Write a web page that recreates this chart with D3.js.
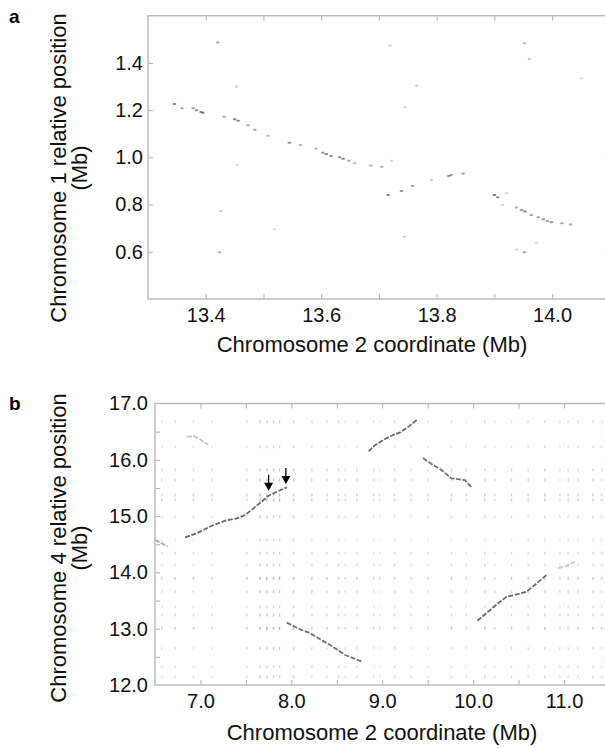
<!DOCTYPE html>
<html>
<head>
<meta charset="utf-8">
<script src="https://cdn.jsdelivr.net/npm/d3@7"></script>
<style>
  body { margin: 0; background: #fff; }
  svg { display: block; font-family: "Liberation Sans", Arial, Helvetica, sans-serif; }
  .frame { fill: none; stroke: #bcbcbc; stroke-width: 1.5; }
  .ticks line { stroke: #b0b0b0; stroke-width: 1; }
  .ticks path, .labels path { display: none; }
  .labels text { font-size: 20px; fill: #111; }
  .title { font-size: 22px; fill: #111; }
  .tag { font-size: 19px; font-weight: bold; fill: #000; }
</style>
</head>
<body>
<svg id="fig" width="605" height="748"></svg>
<script>
// ---------- panel a: chromosome 2 coordinate (x) vs chromosome 1 position (y), Mb ----------
// each match is [x, y, strength]
var aXLabels = [13.4, 13.6, 13.8, 14.0];
var aXTicks = [13.4, 13.5, 13.6, 13.7, 13.8, 13.9, 14.0];
var aYLabels = [0.6, 0.8, 1.0, 1.2, 1.4];
var aBlock1 = [
  [13.346, 1.226, .9], [13.359, 1.208, .6], [13.378, 1.208, .7], [13.384, 1.200, .8],
  [13.392, 1.192, .9], [13.395, 1.189, .9], [13.432, 1.172, .6], [13.450, 1.161, .9],
  [13.456, 1.155, .9], [13.473, 1.136, .6], [13.485, 1.117, .7], [13.508, 1.092, .5],
  [13.545, 1.062, .8], [13.564, 1.052, .6], [13.591, 1.038, .5], [13.603, 1.020, .8],
  [13.609, 1.014, .9], [13.617, 1.006, .8], [13.632, 1.000, .9], [13.638, 0.994, .9],
  [13.648, 0.986, .6], [13.658, 0.975, .5], [13.686, 0.965, .6], [13.705, 0.960, .6]
];
var aBlock2 = [
  [13.716, 0.840, .9], [13.739, 0.857, .8], [13.758, 0.879, .7], [13.791, 0.904, .4],
  [13.821, 0.921, .8], [13.825, 0.925, .7], [13.846, 0.932, .7]
];
var aBlock3 = [
  [13.900, 0.840, 1], [13.906, 0.831, .8], [13.938, 0.788, .6], [13.947, 0.777, .8],
  [13.953, 0.771, .9], [13.964, 0.756, .7], [13.976, 0.746, .7], [13.985, 0.738, .8],
  [13.992, 0.730, .7], [13.999, 0.725, .8], [14.017, 0.721, .6], [14.032, 0.716, .6]
];
var aScatter = [
  [13.421, 1.487, .7], [13.453, 1.299, .35], [13.455, 0.968, .25], [13.426, 0.773, .4],
  [13.424, 0.598, .6], [13.519, 0.695, .25], [13.722, 0.986, .3], [13.914, 0.798, .3],
  [13.921, 0.848, .3], [13.719, 1.473, .35], [13.765, 1.303, .35], [13.745, 1.212, .3],
  [13.952, 1.483, .5], [13.961, 1.417, .4], [14.051, 1.335, .25], [13.744, 0.664, .35],
  [13.952, 0.598, .7], [13.938, 0.610, .3], [13.973, 0.638, .25]
];

// ---------- panel b: chromosome 2 coordinate (x) vs chromosome 4 position (y), Mb ----------
var bXLabels = [7.0, 8.0, 9.0, 10.0, 11.0];
var bXTicks = [7.0, 7.5, 8.0, 8.5, 9.0, 9.5, 10.0, 10.5, 11.0];
var bYLabels = [12.0, 13.0, 14.0, 15.0, 16.0, 17.0];
var bYTicks = [12.5, 13.0, 13.5, 14.0, 14.5, 15.0, 15.5, 16.0, 16.5];
var bArrowed = [
  [6.831, 14.623], [6.959, 14.694], [7.143, 14.842], [7.272, 14.918], [7.400, 14.961],
  [7.492, 15.020], [7.584, 15.138], [7.694, 15.286], [7.749, 15.362], [7.840, 15.433], [7.950, 15.511]
];
var bEdge = [[6.50, 14.58], [6.57, 14.52], [6.64, 14.46]];
var bTopLeft = [[6.85, 16.41], [6.93, 16.42], [7.00, 16.36], [7.08, 16.27]];
var bUpper = [
  [8.85, 16.15], [8.92, 16.26], [9.025, 16.364], [9.118, 16.44], [9.191, 16.481],
  [9.265, 16.559], [9.393, 16.725]
];
var bInverted = [
  [9.448, 16.03], [9.558, 15.908], [9.651, 15.819], [9.761, 15.671], [9.907, 15.641], [9.981, 15.512]
];
var bLowerRight = [
  [10.047, 13.142], [10.164, 13.302], [10.274, 13.451], [10.367, 13.568], [10.458, 13.599],
  [10.587, 13.657], [10.678, 13.776], [10.807, 13.954]
];
var bLowerRightFaint = [[10.935, 14.073], [11.027, 14.114], [11.119, 14.19]];
var bLowerLeft = [
  [7.950, 13.107], [8.098, 12.989], [8.208, 12.918], [8.318, 12.812], [8.428, 12.710],
  [8.538, 12.591], [8.594, 12.533], [8.685, 12.474], [8.776, 12.414]
];
// arrow annotations: [x, y of the arrow tip]
var bArrows = [[7.75, 15.45], [7.94, 15.57]];
// repeat positions on each chromosome (the faint background lattice) with their darkness
var bRepeatX = [6.574, 6.721, 6.923, 7.125, 7.51, 7.657, 7.73, 7.804, 7.87, 8.024, 8.226, 8.391,
  8.52, 8.594, 8.721, 8.905, 8.971, 9.136, 9.32, 9.503, 9.761, 9.926, 10.128, 10.238, 10.422,
  10.605, 10.789, 10.954, 11.045, 11.155, 11.32, 11.413];
var bRepeatXW = [.5, .6, .6, .5, .6, .9, .9, .8, .9, .8, .7, .6, .6, .5, .6, .5, .4, .6, .5, .5,
  .6, .5, .7, .5, .6, .6, .7, .5, .6, .6, .7, .6];
var bRepeatY = [16.677, 16.233, 15.819, 15.641, 15.375, 15.286, 14.99, 14.575, 14.339, 14.131,
  13.895, 13.657, 13.391, 13.243, 13.007, 12.652, 12.325, 12.147];
var bRepeatYW = [.6, .5, .7, .7, .8, .8, .6, .5, .6, .6, .9, .7, .5, .7, .9, .6, .5, .6];

var svg = d3.select("#fig");
var fmt = d3.format(".1f");

// frame with inward ticks on all four sides, labels on left and bottom
function frame(g, x, y, o) {
  var x0 = x.range()[0], x1 = x.range()[1], y0 = y.range()[0], y1 = y.range()[1];
  var t = g.append("g").attr("class", "ticks");
  t.append("g").attr("transform", "translate(0," + y0 + ")").call(d3.axisBottom(x).tickValues(o.xTicks).tickSize(-5).tickFormat(""));
  t.append("g").attr("transform", "translate(0," + y1 + ")").call(d3.axisTop(x).tickValues(o.xTicks).tickSize(-5).tickFormat(""));
  t.append("g").attr("transform", "translate(" + x0 + ",0)").call(d3.axisLeft(y).tickValues(o.yTicks).tickSize(-5).tickFormat(""));
  t.append("g").attr("transform", "translate(" + x1 + ",0)").call(d3.axisRight(y).tickValues(o.yTicks).tickSize(-5).tickFormat(""));
  var l = g.append("g").attr("class", "labels");
  l.append("g").attr("transform", "translate(0," + y0 + ")").call(d3.axisBottom(x).tickValues(o.xLabels).tickSize(0).tickPadding(o.xPad).tickFormat(fmt));
  l.append("g").attr("transform", "translate(" + x0 + ",0)").call(d3.axisLeft(y).tickValues(o.yLabels).tickSize(0).tickPadding(o.yPad).tickFormat(fmt));
  g.append("rect").attr("class", "frame").attr("x", x0).attr("y", y1).attr("width", x1 - x0).attr("height", y0 - y1);
}

function yTitle(g, cx, cy, lines, gap) {
  lines.forEach(function (s, i) {
    g.append("text").attr("class", "title").attr("text-anchor", "middle")
      .attr("transform", "translate(" + (cx + i * gap) + "," + cy + ") rotate(-90)").text(s);
  });
}

// ---- panel a ----
var ga = svg.append("g");
var xa = d3.scaleLinear().domain([13.3, 14.1]).range([148, 609.8]);
var ya = d3.scaleLinear().domain([0.4, 1.6]).range([299, 15.7]);
var aAll = aBlock1.concat(aBlock2, aBlock3, aScatter);
ga.append("g").selectAll("rect").data(aAll).enter().append("rect")
  .attr("x", function (d) { return xa(d[0]) - 1.8; })
  .attr("y", function (d) { return ya(d[1]) - 1; })
  .attr("width", 3.6).attr("height", 2).attr("rx", 1)
  .attr("fill", "#444").attr("fill-opacity", function (d) { return d[2] * 0.7; });
frame(ga, xa, ya, { xTicks: aXTicks, yTicks: aYLabels, xLabels: aXLabels, yLabels: aYLabels, xPad: 8.5, yPad: 5 });
ga.append("text").attr("class", "title").attr("text-anchor", "middle").attr("x", 372).attr("y", 352).text("Chromosome 2 coordinate (Mb)");
yTitle(ga, 66, 168, ["Chromosome 1 relative position", "(Mb)"], 21);
svg.append("text").attr("class", "tag").attr("x", 9).attr("y", 23).text("a");

// ---- panel b ----
var gb = svg.append("g");
var xb = d3.scaleLinear().domain([6.5, 11.5]).range([155, 609.5]);
var yb = d3.scaleLinear().domain([12, 17]).range([685, 403.5]);

var lattice = [];
bRepeatY.forEach(function (ry, i) {
  bRepeatX.forEach(function (rx, j) { lattice.push([rx, ry, bRepeatYW[i] * bRepeatXW[j]]); });
});
gb.append("g").selectAll("rect").data(lattice).enter().append("rect")
  .attr("x", function (d) { return xb(d[0]) - 0.7; })
  .attr("y", function (d) { return yb(d[1]) - 1.5; })
  .attr("width", 1.4).attr("height", 3)
  .attr("fill", "#6a6a6a").attr("fill-opacity", function (d) { return d[2] * 0.6; });

var line = d3.line().x(function (d) { return xb(d[0]); }).y(function (d) { return yb(d[1]); });
[[bArrowed, "#6a6a6a", 1], [bEdge, "#888", .7], [bTopLeft, "#999", .6], [bUpper, "#6a6a6a", 1],
 [bInverted, "#6a6a6a", .95], [bLowerRight, "#6a6a6a", 1], [bLowerRightFaint, "#aaa", .6], [bLowerLeft, "#6a6a6a", .95]]
  .forEach(function (s) {
    gb.append("path").datum(s[0]).attr("d", line).attr("fill", "none")
      .attr("stroke", s[1]).attr("stroke-opacity", s[2]).attr("stroke-width", 1.8)
      .attr("stroke-dasharray", "5 1.6");
  });

var arr = gb.append("g").selectAll("g").data(bArrows).enter().append("g")
  .attr("transform", function (d) { return "translate(" + xb(d[0]) + "," + yb(d[1]) + ")"; });
arr.append("line").attr("x1", 0).attr("x2", 0).attr("y1", -16).attr("y2", -6)
  .attr("stroke", "#000").attr("stroke-width", 1.3);
arr.append("path").attr("d", "M-4.5,-8L4.5,-8L0,0Z").attr("fill", "#000");

frame(gb, xb, yb, { xTicks: bXTicks, yTicks: bYTicks, xLabels: bXLabels, yLabels: bYLabels, xPad: 8.5, yPad: 7 });
gb.append("text").attr("class", "title").attr("text-anchor", "middle").attr("x", 382).attr("y", 740).text("Chromosome 2 coordinate (Mb)");
yTitle(gb, 66, 548, ["Chromosome 4 relative position", "(Mb)"], 21);
svg.append("text").attr("class", "tag").attr("x", 9).attr("y", 410).text("b");
</script>
</body>
</html>
